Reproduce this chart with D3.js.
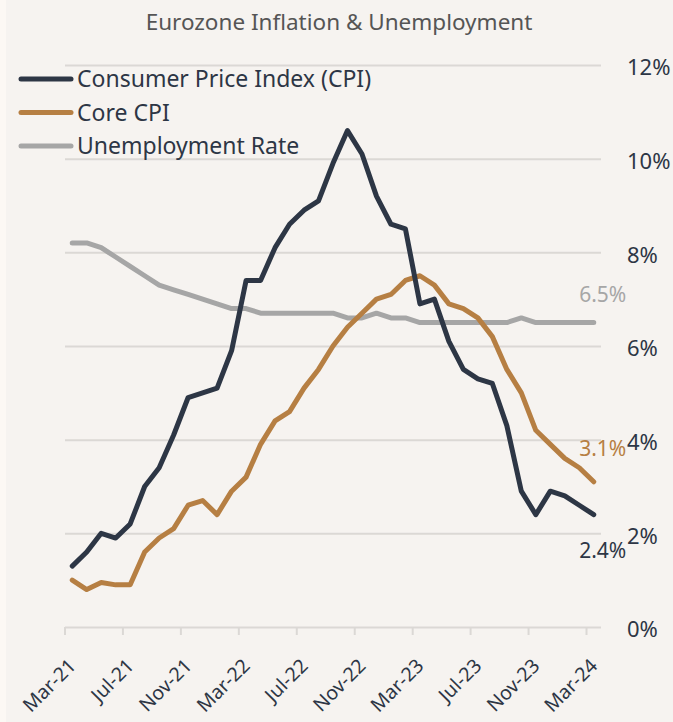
<!DOCTYPE html>
<meta charset="utf-8">
<script src="https://d3js.org/d3.v7.min.js"></script>
<style>
body { margin: 0; background: #fcf8f4; }
text { font-family: "Noto Sans", sans-serif; }
</style>
<body>
<div id="chart"></div>
<script>

// month categories (one per data point)
var months = ["Mar-21","Apr-21","May-21","Jun-21","Jul-21","Aug-21","Sep-21","Oct-21","Nov-21","Dec-21",
  "Jan-22","Feb-22","Mar-22","Apr-22","May-22","Jun-22","Jul-22","Aug-22","Sep-22","Oct-22","Nov-22","Dec-22",
  "Jan-23","Feb-23","Mar-23","Apr-23","May-23","Jun-23","Jul-23","Aug-23","Sep-23","Oct-23","Nov-23","Dec-23",
  "Jan-24","Feb-24","Mar-24"];

var cpi = [1.3,1.6,2.0,1.9,2.2,3.0,3.4,4.1,4.9,5.0,
  5.1,5.9,7.4,7.4,8.1,8.6,8.9,9.1,9.9,10.6,10.1,9.2,
  8.6,8.5,6.9,7.0,6.1,5.5,5.3,5.2,4.3,2.9,2.4,2.9,
  2.8,2.6,2.4];

var coreCpi = [1.0,0.8,0.95,0.9,0.9,1.6,1.9,2.1,2.6,2.7,
  2.4,2.9,3.2,3.9,4.4,4.6,5.1,5.5,6.0,6.4,6.7,7.0,
  7.1,7.4,7.5,7.3,6.9,6.8,6.6,6.2,5.5,5.0,4.2,3.9,
  3.6,3.4,3.1];

var unemployment = [8.2,8.2,8.1,7.9,7.7,7.5,7.3,7.2,7.1,7.0,
  6.9,6.8,6.8,6.7,6.7,6.7,6.7,6.7,6.7,6.6,6.6,6.7,
  6.6,6.6,6.5,6.5,6.5,6.5,6.5,6.5,6.5,6.6,6.5,6.5,
  6.5,6.5,6.5];

var xTickLabels = ["Mar-21","Jul-21","Nov-21","Mar-22","Jul-22","Nov-22","Mar-23","Jul-23","Nov-23","Mar-24"];
var yTicks = [0,2,4,6,8,10,12];

var seriesNames = ["Consumer Price Index (CPI)","Core CPI","Unemployment Rate"];
var seriesColors = ["#2d3645","#b67f43","#a6a6a6"];
var endLabels = ["2.4%","3.1%","6.5%"];

var width = 673, height = 722;

var svg = d3.select("#chart").append("svg")
  .attr("width", width)
  .attr("height", height);

svg.append("rect")
  .attr("x", 6).attr("y", 0)
  .attr("width", width - 6).attr("height", height)
  .attr("fill", "#f6f3f0");

var x = d3.scaleBand()
  .domain(months)
  .range([65, 601])
  .paddingInner(0).paddingOuter(0);

var y = d3.scaleLinear()
  .domain([0, 12])
  .range([627, 65]);

var bw = x.bandwidth();

// gridlines + right axis labels
var yAxis = svg.append("g")
  .attr("transform", "translate(601,0)")
  .call(d3.axisRight(y)
    .tickValues(yTicks)
    .tickSize(-(601 - 65))
    .tickPadding(26)
    .tickFormat(function(d) { return d + "%"; }));
yAxis.select(".domain").remove();
yAxis.selectAll("line")
  .attr("stroke", "#dbd8d5")
  .attr("stroke-width", 2);
yAxis.selectAll("text")
  .attr("fill", "#2d3645")
  .attr("font-size", 22)
  .attr("dy", "0.45em")
  .style("font-family", "'Noto Sans', sans-serif");

// bottom axis: ticks at band edges, labels at band centers
var xAxis = svg.append("g")
  .attr("transform", "translate(0,627)")
  .call(d3.axisBottom(x)
    .tickValues(xTickLabels)
    .tickSize(8)
    .tickFormat(""));
xAxis.select(".domain").remove();
xAxis.selectAll(".tick line")
  .attr("transform", "translate(" + (-bw / 2) + ",0)")
  .attr("stroke", "#dbd8d5")
  .attr("stroke-width", 2);

svg.append("g").selectAll("text")
  .data(xTickLabels)
  .enter()
  .append("text")
    .attr("transform", function(d) {
      return "translate(" + (x(d) + bw / 2 + 5) + ",667) rotate(-45)";
    })
    .attr("text-anchor", "end")
    .attr("fill", "#2d3645")
    .attr("font-size", 19.5)
    .text(function(d) { return d; });

// lines
var allSeries = [cpi, coreCpi, unemployment];
var line = d3.line()
  .x(function(d, i) { return x(months[i]) + bw / 2; })
  .y(function(d) { return y(d); });

// draw unemployment first so CPI sits on top
[2, 1, 0].forEach(function(k) {
  svg.append("path")
    .datum(allSeries[k])
    .attr("fill", "none")
    .attr("stroke", seriesColors[k])
    .attr("stroke-width", 5)
    .attr("stroke-linejoin", "round")
    .attr("stroke-linecap", "round")
    .attr("d", line);
});

// end value labels
var endOffsets = [36, -33, -28];
allSeries.forEach(function(s, k) {
  var last = s.length - 1;
  svg.append("text")
    .attr("x", x(months[last]) + bw / 2 + 9)
    .attr("y", y(s[last]) + endOffsets[k])
    .attr("dy", "0.35em")
    .attr("text-anchor", "middle")
    .attr("fill", seriesColors[k])
    .attr("font-size", 21)
    .text(endLabels[k]);
});

// legend
var legend = svg.append("g");
seriesNames.forEach(function(name, k) {
  var ly = 79 + k * 33.5;
  legend.append("line")
    .attr("x1", 21).attr("x2", 71)
    .attr("y1", ly).attr("y2", ly)
    .attr("stroke", seriesColors[k])
    .attr("stroke-width", 5)
    .attr("stroke-linecap", "round");
  legend.append("text")
    .attr("x", 77)
    .attr("y", ly)
    .attr("dy", "0.35em")
    .attr("fill", "#2d3645")
    .attr("font-size", 23)
    .text(name);
});

// title
svg.append("text")
  .attr("x", 339)
  .attr("y", 22)
  .attr("dy", "0.35em")
  .attr("text-anchor", "middle")
  .attr("fill", "#555555")
  .attr("font-size", 22.5)
  .text("Eurozone Inflation & Unemployment");

</script>
</body>
